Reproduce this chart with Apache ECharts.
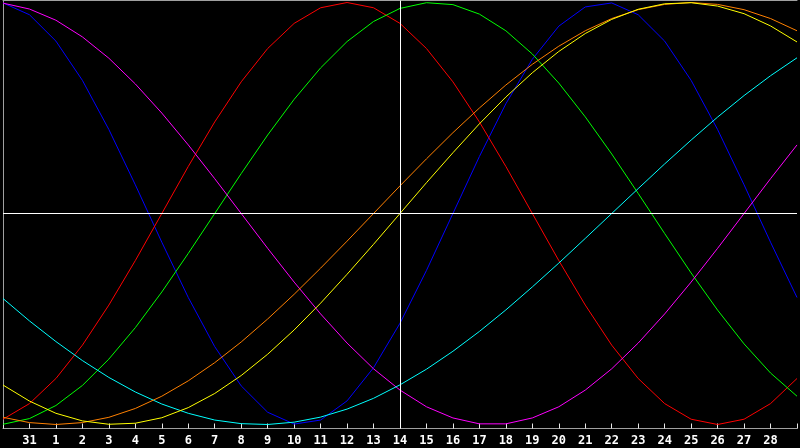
<!DOCTYPE html>
<html>
<head>
<meta charset="utf-8">
<script src="https://cdn.jsdelivr.net/npm/echarts@6/dist/echarts.min.js"></script>
<style>
html,body{margin:0;padding:0;background:#000;}
#c{width:800px;height:448px;}
</style>
</head>
<body>
<div id="c"></div>
<script>
const dayLabels = ['', '31', '1', '2', '3', '4', '5', '6', '7', '8', '9', '10', '11', '12', '13', '14', '15', '16', '17', '18', '19', '20', '21', '22', '23', '24', '25', '26', '27', '28', ''];

const blue = [0.998, 0.942, 0.817, 0.631, 0.398, 0.136, -0.136, -0.398, -0.631, -0.817, -0.942, -0.998, -0.979, -0.888, -0.731, -0.520, -0.270, 0.000, 0.270, 0.520, 0.731, 0.888, 0.979, 0.998, 0.942, 0.817, 0.631, 0.398, 0.136, -0.136, -0.398];
const red = [-0.975, -0.901, -0.782, -0.624, -0.434, -0.223, 0.000, 0.223, 0.434, 0.624, 0.782, 0.901, 0.975, 1.000, 0.975, 0.901, 0.782, 0.624, 0.434, 0.223, 0.000, -0.223, -0.434, -0.624, -0.782, -0.901, -0.975, -1.000, -0.975, -0.901, -0.782];
const green = [-0.999, -0.972, -0.910, -0.815, -0.690, -0.541, -0.372, -0.189, 0.000, 0.189, 0.372, 0.541, 0.690, 0.815, 0.910, 0.972, 0.999, 0.990, 0.945, 0.866, 0.756, 0.618, 0.458, 0.282, 0.095, -0.095, -0.282, -0.458, -0.618, -0.756, -0.866];
const magenta = [0.997, 0.969, 0.916, 0.837, 0.736, 0.614, 0.476, 0.325, 0.165, 0.000, -0.165, -0.325, -0.476, -0.614, -0.736, -0.837, -0.916, -0.969, -0.997, -0.997, -0.969, -0.916, -0.837, -0.736, -0.614, -0.476, -0.325, -0.165, 0.000, 0.165, 0.325];
const yellow = [-0.813, -0.889, -0.947, -0.983, -0.999, -0.994, -0.968, -0.920, -0.853, -0.768, -0.667, -0.552, -0.425, -0.288, -0.146, 0.000, 0.146, 0.288, 0.425, 0.552, 0.667, 0.768, 0.853, 0.920, 0.968, 0.994, 0.999, 0.983, 0.947, 0.889, 0.813];
const orange = [-0.966, -0.991, -1.000, -0.991, -0.966, -0.924, -0.866, -0.793, -0.707, -0.609, -0.500, -0.383, -0.259, -0.131, 0.000, 0.131, 0.259, 0.383, 0.500, 0.609, 0.707, 0.793, 0.866, 0.924, 0.966, 0.991, 1.000, 0.991, 0.966, 0.924, 0.866];
const cyan = [-0.403, -0.509, -0.607, -0.697, -0.777, -0.846, -0.903, -0.947, -0.979, -0.996, -1.000, -0.989, -0.965, -0.927, -0.876, -0.812, -0.738, -0.653, -0.559, -0.457, -0.348, -0.235, -0.118, 0.000, 0.118, 0.235, 0.348, 0.457, 0.559, 0.653, 0.738];

const seriesDefs = [
  { name: 'blue', data: blue, color: '#0000ff' },
  { name: 'red', data: red, color: '#ff0000' },
  { name: 'green', data: green, color: '#00ff00' },
  { name: 'magenta', data: magenta, color: '#ff00ff' },
  { name: 'cyan', data: cyan, color: '#00ffff' },
  { name: 'orange', data: orange, color: '#ff8000' },
  { name: 'yellow', data: yellow, color: '#ffff00' }
];

const chart = echarts.init(document.getElementById('c'), null, { renderer: 'canvas' });

const series = seriesDefs.map(s => ({
  name: s.name,
  type: 'line',
  data: s.data,
  symbol: 'none',
  smooth: false,
  lineStyle: { color: s.color, width: 1 },
  itemStyle: { color: s.color },
  silent: true,
  z: 3
}));

series.push({
  type: 'line',
  data: [],
  silent: true,
  markLine: {
    symbol: 'none',
    silent: true,
    label: { show: false },
    lineStyle: { color: '#ffffff', width: 1, type: 'solid' },
    data: [{ xAxis: 15 }, { yAxis: 0 }],
    animation: false
  },
  z: 2
});

chart.setOption({
  backgroundColor: '#000000',
  animation: false,
  grid: {
    left: 0.5, top: 0.5, width: 800, height: 428,
    show: false
  },
  xAxis: [{
    type: 'category',
    data: dayLabels,
    boundaryGap: false,
    axisLine: { show: true, onZero: false, lineStyle: { color: '#a0a0a0', width: 1 } },
    axisTick: { show: true, inside: true, length: 5, interval: 0, lineStyle: { color: '#e8e8e8', width: 1 } },
    axisLabel: {
      show: true, interval: 0, margin: 6,
      color: '#ffffff', fontSize: 12, fontWeight: 'bold',
      fontFamily: 'DejaVu Sans Mono'
    },
    splitLine: { show: false }
  }, {
    type: 'category',
    data: dayLabels,
    boundaryGap: false,
    position: 'top',
    axisLine: { show: true, onZero: false, lineStyle: { color: '#a0a0a0', width: 1 } },
    axisTick: { show: false },
    axisLabel: { show: false },
    splitLine: { show: false }
  }],
  yAxis: {
    type: 'value',
    min: -1.019, max: 1.0095,
    show: true,
    axisLine: { show: true, onZero: false, lineStyle: { color: '#a0a0a0', width: 1 } },
    axisTick: { show: false },
    axisLabel: { show: false },
    splitLine: { show: false }
  },
  series: series
});
</script>
</body>
</html>
